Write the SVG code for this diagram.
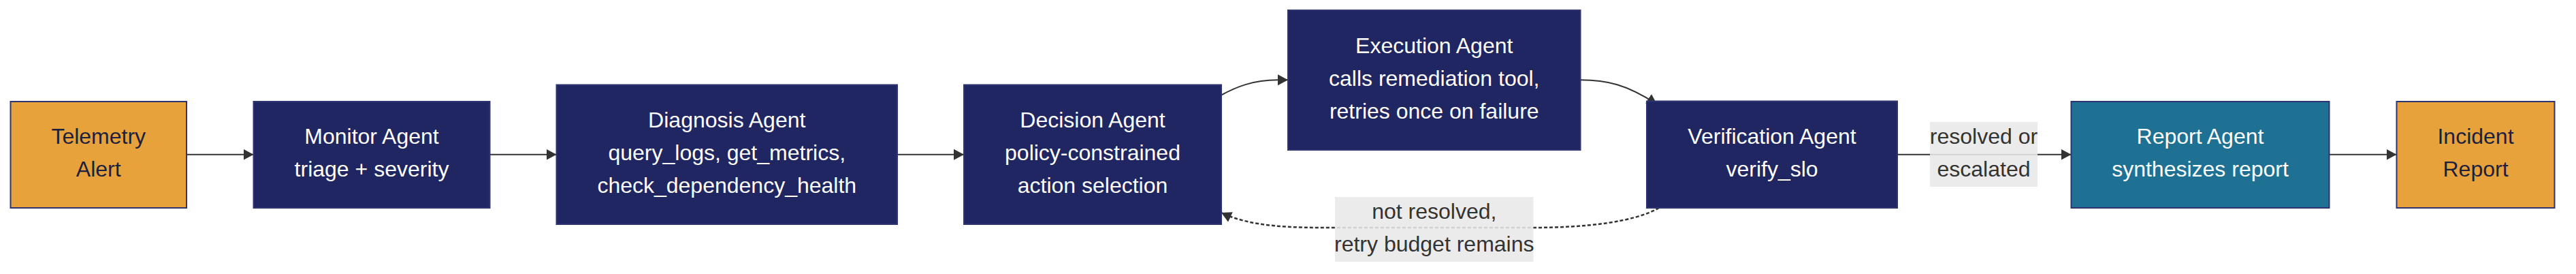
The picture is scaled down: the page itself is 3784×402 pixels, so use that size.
<svg xmlns="http://www.w3.org/2000/svg" width="3784" height="402" viewBox="0 0 3784 402">
<style>
  .node rect { stroke: #2e3472; stroke-width: 2; }
  .navy rect { fill: #1f2661; }
  .orange rect { fill: #e8a23b; }
  .teal rect { fill: #1e7193; }
  text { font-family: "Liberation Sans", Arial, sans-serif; font-size: 32px; text-anchor: middle; }
  .navy text, .teal text { fill: #ffffff; }
  .orange text { fill: #1d1f3f; }
  .edge { fill: none; stroke: #333333; stroke-width: 2; }
  .dotted { stroke-dasharray: 5 3; stroke-width: 2.5; }
  .lbl rect { fill: #e8e8e8; fill-opacity: 0.88; }
  .lbl text { fill: #333333; }
</style>
<defs>
  <marker id="arrow" markerUnits="userSpaceOnUse" viewBox="0 0 15 16" refX="15" refY="8" markerWidth="15" markerHeight="16" orient="auto">
    <path d="M0,0 L15,8 L0,16 z" fill="#333333"/>
  </marker>
</defs>
<rect width="3784" height="402" fill="#ffffff"/>
<g id="connectors">
  <path class="edge" d="M274,226.75 L372.5,226.75" marker-end="url(#arrow)"/>
  <path class="edge" d="M719.5,226.75 L817.5,226.75" marker-end="url(#arrow)"/>
  <path class="edge" d="M1318,226.75 L1416,226.75" marker-end="url(#arrow)"/>
  <path class="edge" d="M1794,139.5 C1815,128 1840,117.3 1877,117.3 L1892,117.3" marker-end="url(#arrow)"/>
  <path class="edge" d="M2321,117.3 C2360,117.3 2390,124 2434,153" marker-end="url(#arrow)"/>
  <path class="edge dotted" d="M2437,305 C2400,326 2330,334 2250,334 L1960,334 C1900,334 1840,334 1794,312" marker-end="url(#arrow)"/>
  <path class="edge" d="M2787,226.75 L3042.5,226.75" marker-end="url(#arrow)"/>
  <path class="edge" d="M3421.5,226.75 L3520.5,226.75" marker-end="url(#arrow)"/>
</g>
<g id="node-telemetry" class="node orange">
  <rect x="15.5" y="149" width="258.5" height="156"/>
  <text x="144.75" y="211">Telemetry</text>
  <text x="144.75" y="259">Alert</text>
</g>
<g id="node-monitor" class="node navy">
  <rect x="372.5" y="149" width="347" height="156"/>
  <text x="546" y="211">Monitor Agent</text>
  <text x="546" y="259">triage + severity</text>
</g>
<g id="node-diagnosis" class="node navy">
  <rect x="817.5" y="124.5" width="500.5" height="204.5"/>
  <text x="1067.75" y="187">Diagnosis Agent</text>
  <text x="1067.75" y="235">query_logs, get_metrics,</text>
  <text x="1067.75" y="283">check_dependency_health</text>
</g>
<g id="node-decision" class="node navy">
  <rect x="1416" y="124.5" width="378" height="204.5"/>
  <text x="1605" y="187">Decision Agent</text>
  <text x="1605" y="235">policy-constrained</text>
  <text x="1605" y="283">action selection</text>
</g>
<g id="node-execution" class="node navy">
  <rect x="1892" y="15" width="429.5" height="205"/>
  <text x="2106.75" y="77.5">Execution Agent</text>
  <text x="2106.75" y="125.5">calls remediation tool,</text>
  <text x="2106.75" y="173.5">retries once on failure</text>
</g>
<g id="node-verification" class="node navy">
  <rect x="2419" y="148.5" width="368" height="156.5"/>
  <text x="2603" y="210.5">Verification Agent</text>
  <text x="2603" y="258.5">verify_slo</text>
</g>
<g id="node-report" class="node teal">
  <rect x="3042.5" y="149" width="379" height="156"/>
  <text x="3232" y="211">Report Agent</text>
  <text x="3232" y="259">synthesizes report</text>
</g>
<g id="node-incident" class="node orange">
  <rect x="3520.5" y="149" width="232" height="156"/>
  <text x="3636.5" y="211">Incident</text>
  <text x="3636.5" y="259">Report</text>
</g>
<g id="label-resolved" class="lbl">
  <rect x="2835" y="179" width="158" height="95"/>
  <text x="2914" y="210.5">resolved or</text>
  <text x="2914" y="258.5">escalated</text>
</g>
<g id="label-retry" class="lbl">
  <rect x="1961" y="289" width="291.5" height="95"/>
  <text x="2106.75" y="320.5">not resolved,</text>
  <text x="2106.75" y="368.5">retry budget remains</text>
</g>
</svg>
